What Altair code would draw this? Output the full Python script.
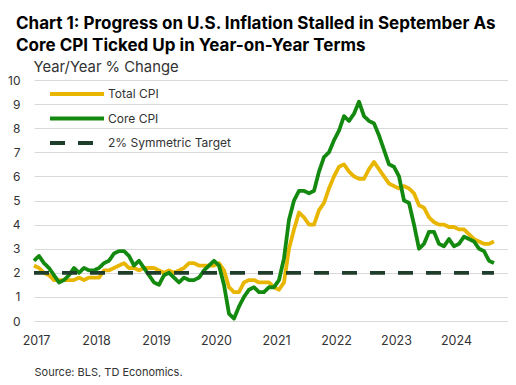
import altair as alt
import pandas as pd

# Values (monthly, Jan 2017 - Sep 2024)
total_cpi = [
    2.3, 2.2, 2.0, 1.9, 1.7, 1.7, 1.7, 1.7, 1.7, 1.8, 1.7, 1.8,
    1.8, 1.8, 2.1, 2.1, 2.2, 2.3, 2.4, 2.2, 2.2, 2.1, 2.2, 2.2,
    2.2, 2.1, 2.0, 2.1, 2.0, 2.1, 2.2, 2.4, 2.4, 2.3, 2.3, 2.3,
    2.3, 2.4, 2.1, 1.4, 1.2, 1.2, 1.6, 1.7, 1.7, 1.6, 1.6, 1.6,
    1.4, 1.3, 1.6, 3.0, 3.8, 4.5, 4.3, 4.0, 4.0, 4.6, 4.9, 5.5,
    6.0, 6.4, 6.5, 6.2, 6.0, 5.9, 5.9, 6.3, 6.6, 6.3, 6.0, 5.7,
    5.6, 5.5, 5.6, 5.5, 5.3, 4.8, 4.7, 4.3, 4.1, 4.0, 4.0, 3.9,
    3.9, 3.8, 3.8, 3.6, 3.4, 3.3, 3.2, 3.2, 3.3,
]
core_cpi = [
    2.5, 2.7, 2.4, 2.2, 1.9, 1.6, 1.7, 1.9, 2.2, 2.0, 2.2, 2.1,
    2.1, 2.2, 2.4, 2.5, 2.8, 2.9, 2.9, 2.7, 2.3, 2.5, 2.2, 1.9,
    1.6, 1.5, 1.9, 2.0, 1.8, 1.6, 1.8, 1.7, 1.7, 1.8, 2.1, 2.3,
    2.5, 2.3, 1.5, 0.3, 0.1, 0.6, 1.0, 1.3, 1.4, 1.2, 1.2, 1.4,
    1.4, 1.7, 2.6, 4.2, 5.0, 5.4, 5.4, 5.3, 5.4, 6.2, 6.8, 7.0,
    7.5, 7.9, 8.5, 8.3, 8.6, 9.1, 8.5, 8.3, 8.2, 7.7, 7.1, 6.5,
    6.4, 6.0, 5.0, 4.9, 4.0, 3.0, 3.2, 3.7, 3.7, 3.2, 3.1, 3.4,
    3.1, 3.2, 3.5, 3.4, 3.3, 3.0, 2.9, 2.5, 2.4,
]
target_value = 2.0
series_names = ["Total CPI", "Core CPI", "2% Symmetric Target"]
series_colors = ["#E8B600", "#13890F", "#1E3D2B"]
year_ticks = [2017, 2018, 2019, 2020, 2021, 2022, 2023, 2024]
start_year = 2017

FONT = "Inter"

n = len(total_cpi)
months = [start_year + i / 12 for i in range(n)]

rows = []
for t, v in zip(months, total_cpi):
    rows.append({"t": t, "v": v, "s": series_names[0]})
for t, v in zip(months, core_cpi):
    rows.append({"t": t, "v": v, "s": series_names[1]})
for t in (months[0], months[-1]):
    rows.append({"t": t, "v": target_value, "s": series_names[2]})
df = pd.DataFrame(rows)

legend = alt.Legend(
    title=None,
    orient="none",
    legendX=32,
    legendY=3,
    symbolType="M-3,0H3",
    symbolSize=324,
    symbolStrokeWidth=4,
    labelOffset=20,
    labelFont=FONT,
    labelFontSize=12,
    labelColor="#333333",
    rowPadding=5.5,
    padding=0,
)

chart = alt.Chart(df).mark_line(strokeWidth=3.8, strokeJoin="round").encode(
    x=alt.X(
        "t:Q",
        scale=alt.Scale(domain=[2017, 2024.9], nice=False, zero=False),
        axis=alt.Axis(
            values=year_ticks, format="d", grid=False, domain=False, ticks=False,
            labelPadding=13, labelFont=FONT, labelFontSize=12.5,
            labelColor="#333333", labelOffset=2, labelFlush=False,
            title="Source: BLS, TD Economics.", titleFont=FONT,
            titleFontSize=11, titleFontWeight="normal", titleColor="#333333",
            titleAnchor="start", titleAlign="left", titleBaseline="alphabetic",
            titleX=0, titleY=54,
        ),
    ),
    y=alt.Y(
        "v:Q",
        scale=alt.Scale(domain=[0, 10], nice=False),
        axis=alt.Axis(
            values=list(range(0, 11)), grid=True, gridColor="#d9d9d9", gridWidth=1,
            domain=False, ticks=False, labelPadding=14, labelFont=FONT,
            labelFontSize=12, labelColor="#333333",
            title="Year/Year % Change", titleFont=FONT, titleFontSize=14.8,
            titleFontWeight="normal", titleColor="#333333", titleAngle=0,
            titleAlign="left", titleBaseline="alphabetic", titleX=-1, titleY=-9,
        ),
    ),
    color=alt.Color("s:N", scale=alt.Scale(domain=series_names, range=series_colors), legend=legend),
    strokeDash=alt.StrokeDash(
        "s:N",
        scale=alt.Scale(domain=series_names, range=[[1, 0], [1, 0], [15, 13]]),
        legend=legend,
    ),
    order=alt.Order("t:Q"),
).properties(
    width=474,
    height=241,
    autosize=alt.AutoSizeParams(type="none"),
    padding={"left": 26, "top": 72, "right": 0, "bottom": 56},
    title=alt.TitleParams(
        text=["Chart 1: Progress on U.S.  Inflation Stalled in September As",
              "Core CPI Ticked Up in Year-on-Year Terms"],
        anchor="start", frame="group", dx=-18, font=FONT, fontSize=17,
        fontWeight="bold", color="#000000", lineHeight=22.5, offset=4,
    ),
).configure_view(stroke=None)

chart.save("out.html", embed_options={"renderer": "svg", "actions": False})
